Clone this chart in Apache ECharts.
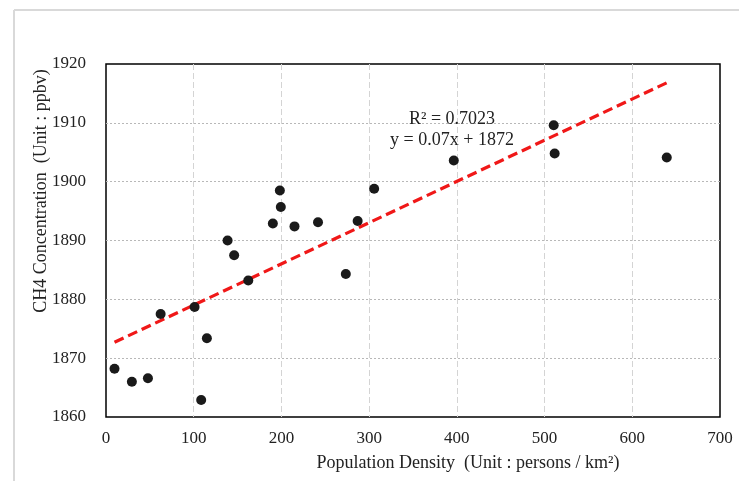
<!DOCTYPE html>
<html>
<head>
<meta charset="utf-8">
<script src="https://cdn.jsdelivr.net/npm/echarts@6/dist/echarts.min.js"></script>
<style>
html,body{margin:0;padding:0;background:#fff;}
#chart{width:739px;height:481px;}
</style>
</head>
<body>
<div id="chart"></div>
<script>
// Population density (persons / km2)
const densityValues = [9.7, 29.5, 47.8, 62.3, 101, 108.5, 115, 138.6, 146.1, 162.2, 190.2, 198.2, 199.3, 214.9, 241.7, 273.4, 286.9, 305.7, 396.5, 510.4, 511.5, 639.3];
// CH4 concentration (ppbv)
const ch4Values = [1868.2, 1866.0, 1866.6, 1877.5, 1878.7, 1862.9, 1873.4, 1890.0, 1887.5, 1883.2, 1892.9, 1898.5, 1895.7, 1892.4, 1893.1, 1884.3, 1893.3, 1898.8, 1903.6, 1909.6, 1904.8, 1904.1];
// Linear trend line endpoints
const trendX = [9.7, 639.3];
const trendY = [1872.7, 1916.8];
// Axis ranges / ticks
const xTicks = [0, 100, 200, 300, 400, 500, 600, 700];
const yTicks = [1860, 1870, 1880, 1890, 1900, 1910, 1920];
const xTitle = 'Population Density  (Unit : persons / km²)';
const yTitle = 'CH4 Concentration  (Unit : ppbv)';
const annotR2 = 'R² = 0.7023';
const annotEq = 'y = 0.07x + 1872';

const FONT = '"Liberation Serif", "Times New Roman", serif';
const scatterData = densityValues.map((x, i) => [x, ch4Values[i]]);
const trendData = trendX.map((x, i) => [x, trendY[i]]);

const chart = echarts.init(document.getElementById('chart'), null, {renderer: 'canvas'});
chart.setOption({
  backgroundColor: '#ffffff',
  animation: false,
  grid: {
    left: 106, top: 64, width: 614, height: 353,
    show: true, borderColor: '#000000', borderWidth: 1.5,
    backgroundColor: 'transparent', containLabel: false
  },
  xAxis: {
    type: 'value',
    min: xTicks[0], max: xTicks[xTicks.length - 1], interval: 100,
    axisLine: {show: false},
    axisTick: {show: false},
    axisLabel: {fontFamily: FONT, fontSize: 17, color: '#222', margin: 13,
      formatter: v => String(v)},
    splitLine: {show: true, showMinLine: false, showMaxLine: false,
      lineStyle: {color: '#d4d4d4', type: [6, 3], width: 1}}
  },
  yAxis: {
    type: 'value',
    min: yTicks[0], max: yTicks[yTicks.length - 1], interval: 10,
    axisLine: {show: false},
    axisTick: {show: false},
    axisLabel: {fontFamily: FONT, fontSize: 17, color: '#222', margin: 20,
      formatter: v => String(v)},
    splitLine: {show: true, showMinLine: false, showMaxLine: false,
      lineStyle: {color: '#b8b8b8', type: [2, 2], width: 1}}
  },
  series: [
    {
      type: 'line',
      data: trendData,
      symbol: 'none',
      z: 3,
      lineStyle: {color: '#f01818', width: 3.2, type: [10, 5]}
    },
    {
      type: 'scatter',
      data: scatterData,
      symbol: 'circle',
      symbolSize: 10,
      z: 4,
      itemStyle: {color: '#1a1a1a', opacity: 1}
    }
  ],
  graphic: [
    {type: 'line', shape: {x1: 14, y1: 10, x2: 739, y2: 10}, style: {stroke: '#d9d9d9', lineWidth: 2}},
    {type: 'line', shape: {x1: 14, y1: 10, x2: 14, y2: 481}, style: {stroke: '#d9d9d9', lineWidth: 2}},
    {type: 'text', x: 468, y: 463, style: {text: xTitle, font: '18px ' + FONT, fill: '#222', textAlign: 'center', textVerticalAlign: 'middle'}},
    {type: 'text', x: 41, y: 191, rotation: Math.PI / 2, style: {text: yTitle, font: '18px ' + FONT, fill: '#222', textAlign: 'center', textVerticalAlign: 'middle'}},
    {type: 'text', x: 452, y: 119, style: {text: annotR2, font: '18px ' + FONT, fill: '#222', textAlign: 'center', textVerticalAlign: 'middle'}, z: 10},
    {type: 'text', x: 452, y: 140, style: {text: annotEq, font: '18px ' + FONT, fill: '#222', textAlign: 'center', textVerticalAlign: 'middle'}, z: 10}
  ]
});
</script>
</body>
</html>
